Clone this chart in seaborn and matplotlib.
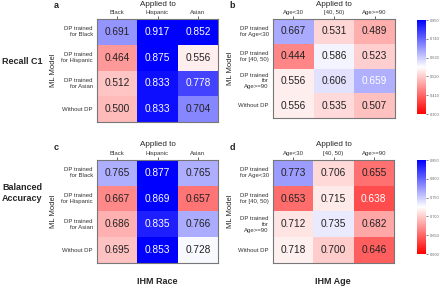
import matplotlib
matplotlib.use("Agg")
import matplotlib.pyplot as plt
import seaborn as sns
import pandas as pd
import numpy as np

# data
race_cols = ["Black", "Hispanic", "Asian"]
race_rows = ["DP trained\nfor Black", "DP trained\nfor Hispanic", "DP trained\nfor Asian", "Without DP"]
age_cols = ["Age<30", "[40, 50)", "Age>=90"]
age_rows = ["DP trained\nfor Age<30", "DP trained\nfor [40, 50)", "DP trained\nfor\nAge>=90", "Without DP"]

recall_race = [[0.691, 0.917, 0.852],
               [0.464, 0.875, 0.556],
               [0.512, 0.833, 0.778],
               [0.500, 0.833, 0.704]]
recall_age = [[0.667, 0.531, 0.489],
              [0.444, 0.586, 0.523],
              [0.556, 0.606, 0.659],
              [0.556, 0.535, 0.507]]
bacc_race = [[0.765, 0.877, 0.765],
             [0.667, 0.869, 0.657],
             [0.686, 0.835, 0.766],
             [0.695, 0.853, 0.728]]
bacc_age = [[0.773, 0.706, 0.655],
            [0.653, 0.715, 0.638],
            [0.712, 0.735, 0.682],
            [0.718, 0.700, 0.646]]

recall_ticks = [0.300, 0.410, 0.520, 0.630, 0.740, 0.850]
bacc_ticks = [0.600, 0.650, 0.700, 0.750, 0.800, 0.850]

# cells whose number is printed in white (row, col)
white_a = [(0, 1), (1, 1), (2, 1), (3, 1), (0, 2), (2, 2)]
white_b = [(2, 2)]
white_c = [(0, 1), (1, 1), (2, 1), (3, 1)]
white_d = [(1, 2)]

sns.set_style("white")
plt.rcParams['font.family'] = ['Liberation Sans', 'DejaVu Sans']

W, H = 440, 289
fig = plt.figure(figsize=(4.4, 2.89), dpi=100)


def box(x0, y0, x1, y1):
    return [x0 / W, 1 - y1 / H, (x1 - x0) / W, (y1 - y0) / H]


def panel(rect, data, rows, cols, vmin, vmax, letter, whites, cax=None, ticks=None):
    ax = fig.add_axes(box(*rect))
    df = pd.DataFrame(data, index=rows, columns=cols)
    sns.heatmap(df, ax=ax, cmap="bwr_r", vmin=vmin, vmax=vmax, annot=False,
                cbar=cax is not None, cbar_ax=cax,
                cbar_kws={"ticks": ticks} if cax is not None else None)
    for i, row in enumerate(data):
        for j, v in enumerate(row):
            c = "white" if (i, j) in whites else "#222222"
            ax.text(j + 0.5, i + 0.5, f"{v:.3f}", ha="center", va="center", fontsize=7.3, color=c)
    ax.xaxis.tick_top()
    ax.tick_params(axis="x", labelsize=4.3, length=2, width=0.5, pad=1, labelcolor="#333333")
    ax.tick_params(axis="y", labelsize=4.3, length=2, width=0.5, pad=1, labelcolor="#333333",
                   rotation=0)
    for lab in ax.get_yticklabels():
        lab.set_horizontalalignment("right")
        lab.set_multialignment("right")
    ax.set_xlabel("")
    ax.set_ylabel("ML Model", fontsize=5.5, labelpad=3)
    for s in ax.spines.values():
        s.set_visible(True)
        s.set_color("#777777")
        s.set_linewidth(0.8)
    x0, y0, x1, y1 = rect
    fig.text((x0 + x1) / 2 / W, 1 - (y0 - 15) / H, "Applied to", ha="center", va="center", fontsize=5.8)
    fig.text((x0 - 41) / W, 1 - (y0 - 13) / H, letter, ha="center", va="center",
             fontsize=6.5, fontweight="bold")
    if cax is not None:
        cax.tick_params(labelsize=2.8, length=1.5, width=0.4, pad=1, labelcolor="#666666")
        cax.set_yticklabels([f"{t:.3f}" for t in ticks])
        for s in cax.spines.values():
            s.set_visible(False)
    return ax


cax1 = fig.add_axes(box(417, 20, 426, 114))
cax2 = fig.add_axes(box(417, 160, 426, 254))

panel((97, 19, 218, 122), recall_race, race_rows, race_cols, 0.30, 0.85, "a", white_a)
panel((273, 19, 395, 118), recall_age, age_rows, age_cols, 0.30, 0.85, "b", white_b, cax1, recall_ticks)
panel((97, 160, 218, 263), bacc_race, race_rows, race_cols, 0.60, 0.85, "c", white_c)
panel((273, 160, 394, 263), bacc_age, age_rows, age_cols, 0.60, 0.85, "d", white_d, cax2, bacc_ticks)

fig.text(2 / W, 1 - 62 / H, "Recall C1", ha="left", va="center", fontsize=6.5, fontweight="bold")
fig.text(2 / W, 1 - 193 / H, "Balanced\nAccuracy", ha="left", va="center", fontsize=6.5,
         fontweight="bold", linespacing=1.3)
fig.text(157 / W, 1 - 282 / H, "IHM Race", ha="center", va="center", fontsize=6.5, fontweight="bold")
fig.text(333 / W, 1 - 282 / H, "IHM Age", ha="center", va="center", fontsize=6.5, fontweight="bold")

fig.savefig("out.png", dpi=100, facecolor="white")
